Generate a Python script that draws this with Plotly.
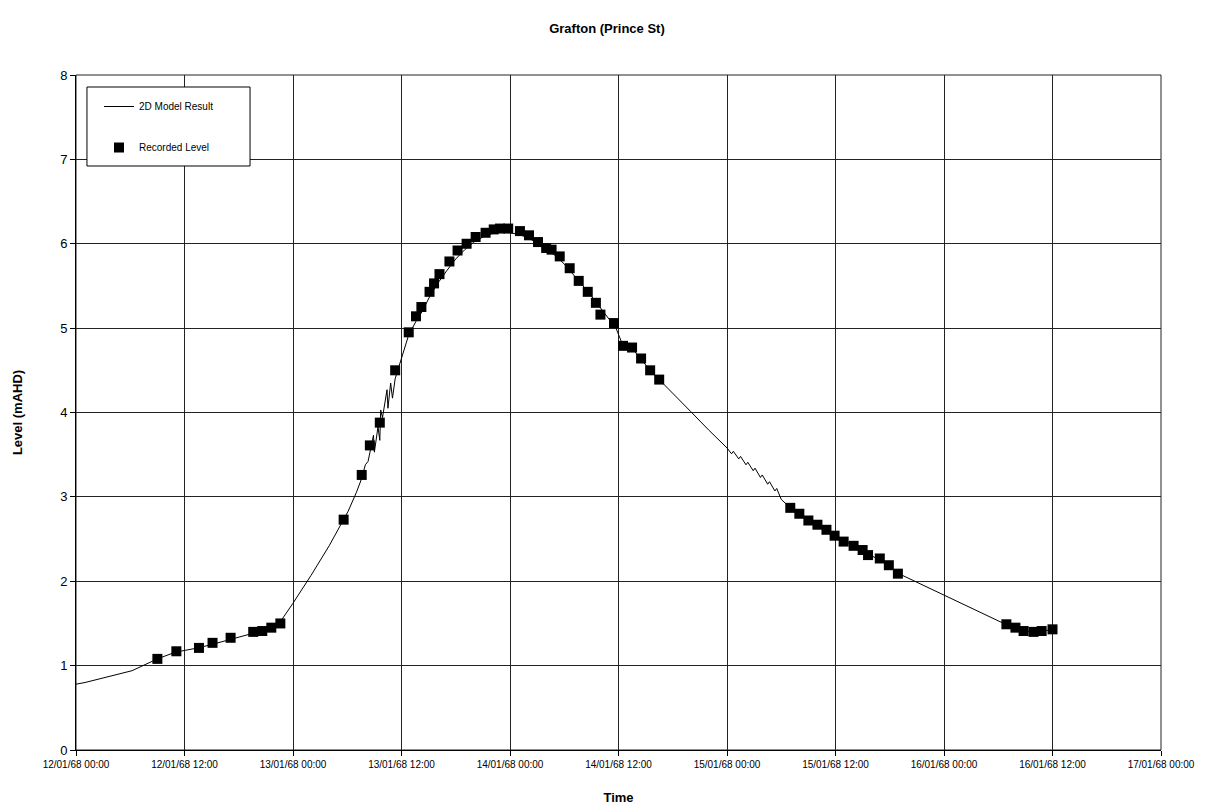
import pandas as pd
import plotly.graph_objects as go

# Start of the time axis; all times below are hours after this instant
t0 = pd.Timestamp("1968-01-12 00:00")

# Recorded gauge levels (hours after start, level in mAHD)
rec_hours = [9.0, 11.1, 13.6, 15.1, 17.1, 19.6, 20.6, 21.6, 22.6,
             29.6, 31.6, 32.5, 33.6, 35.3, 36.8, 37.6, 38.2, 39.1, 39.6,
             40.2, 41.3, 42.2, 43.2, 44.2, 45.3, 46.2, 46.9, 47.8, 49.1,
             50.1, 51.1, 52.0, 52.6, 53.5, 54.6, 55.6, 56.6, 57.5, 58.0,
             59.5, 60.5, 61.5, 62.5, 63.5, 64.5,
             79.0, 80.0, 81.0, 82.0, 83.0, 83.9, 84.9, 86.0, 87.0, 87.6,
             88.9, 89.9, 90.9,
             102.9, 103.9, 104.8, 105.9, 106.8, 108.0]
rec_level = [1.08, 1.17, 1.21, 1.27, 1.33, 1.40, 1.41, 1.45, 1.50,
             2.73, 3.26, 3.61, 3.88, 4.50, 4.95, 5.14, 5.25, 5.43, 5.53,
             5.64, 5.79, 5.92, 6.00, 6.08, 6.13, 6.17, 6.18, 6.18, 6.15,
             6.10, 6.02, 5.95, 5.93, 5.85, 5.71, 5.56, 5.43, 5.30, 5.16,
             5.06, 4.79, 4.77, 4.64, 4.50, 4.39,
             2.87, 2.80, 2.72, 2.67, 2.61, 2.54, 2.47, 2.42, 2.37, 2.31,
             2.27, 2.19, 2.09,
             1.49, 1.45, 1.41, 1.40, 1.41, 1.43]

# 2D model water level output (hours after start, level in mAHD)
model_hours = [0.0, 1.0, 6.2, 9.0, 11.0, 13.5, 15.0, 17.0, 19.5, 20.5,
               21.5, 22.6, 24.0, 26.0, 28.0, 29.5, 30.1, 31.0, 31.6,
               32.0, 32.3, 32.9, 33.0, 33.4, 33.6, 33.7, 33.9, 34.4, 34.5,
               34.8, 35.0, 35.3, 35.8, 36.8, 37.6, 38.3, 39.1, 40.0, 41.0,
               42.0, 43.0, 44.0, 45.0, 46.0, 47.0, 48.0, 49.0, 50.0, 51.0,
               52.0, 53.0, 54.0, 55.0, 56.0, 57.0, 58.0, 59.0, 59.5, 60.5,
               61.5, 62.5, 63.5, 64.5, 66.0, 68.0, 70.0, 72.0, 72.5, 72.7,
               73.3, 73.5, 74.1, 74.3, 74.9, 75.1, 75.7, 75.9, 76.5, 76.7,
               77.3, 77.5, 78.0, 79.0, 80.0, 81.0, 82.0, 83.0, 84.0, 85.0,
               86.0, 87.0, 88.0, 89.0, 90.0, 91.0, 103.0, 104.0, 105.0,
               106.0, 107.0, 108.0]
model_level = [0.78, 0.80, 0.94, 1.08, 1.16, 1.21, 1.25, 1.31, 1.38, 1.41,
               1.45, 1.52, 1.74, 2.07, 2.42, 2.72, 2.83, 3.05, 3.22,
               3.38, 3.42, 3.73, 3.53, 3.83, 3.67, 4.03, 3.94, 4.27, 4.05,
               4.35, 4.17, 4.40, 4.58, 4.92, 5.08, 5.20, 5.37, 5.53, 5.68,
               5.82, 5.93, 6.02, 6.08, 6.12, 6.14, 6.13, 6.11, 6.07, 6.01,
               5.94, 5.86, 5.76, 5.64, 5.51, 5.38, 5.24, 5.10, 5.06, 4.79,
               4.76, 4.63, 4.50, 4.39, 4.23, 4.01, 3.79, 3.58, 3.51, 3.54,
               3.45, 3.48, 3.38, 3.41, 3.31, 3.34, 3.23, 3.26, 3.15, 3.18,
               3.07, 3.10, 2.97, 2.87, 2.79, 2.72, 2.66, 2.60, 2.54, 2.47,
               2.41, 2.36, 2.30, 2.25, 2.18, 2.09, 1.48, 1.44, 1.41,
               1.40, 1.41, 1.43]

y_ticks = [0, 1, 2, 3, 4, 5, 6, 7, 8]


def to_time(hours):
    return [t0 + pd.Timedelta(hours=h) for h in hours]


FONT = "Arial, Liberation Sans, sans-serif"

fig = go.Figure()
fig.add_trace(go.Scatter(
    x=to_time(model_hours), y=model_level, mode="lines",
    name="2D Model Result", legendgroup="a",
    line=dict(color="black", width=1),
))
fig.add_trace(go.Scatter(
    x=to_time(rec_hours), y=rec_level, mode="markers",
    name="Recorded Level", legendgroup="b",
    marker=dict(symbol="square", size=10, color="black"),
))

fig.update_layout(
    width=1214, height=811,
    margin=dict(l=76, r=53, t=75, b=61),
    paper_bgcolor="white", plot_bgcolor="white",
    font=dict(family=FONT, color="black"),
    title=dict(text="<b>Grafton (Prince St)</b>", x=0.5, xanchor="center",
               y=1 - 28 / 811, yanchor="middle", font=dict(size=13)),
    legend=dict(x=0.0212, y=0.9748, xanchor="left", yanchor="top",
                bgcolor="rgba(0,0,0,0)", borderwidth=0,
                font=dict(size=10), tracegroupgap=22, itemwidth=30),
    showlegend=True,
)
fig.update_xaxes(
    type="date",
    range=[t0, t0 + pd.Timedelta(hours=120)],
    dtick=12 * 3600 * 1000, tick0=t0,
    tickformat="%d/%m/%y %H:%M",
    tickfont=dict(size=10),
    ticks="outside", ticklen=5, tickcolor="black",
    showgrid=True, gridcolor="#222222", gridwidth=1,
    showline=True, linecolor="black", linewidth=1, mirror=False,
    zeroline=False, automargin=False,
    title=dict(text="<b>Time</b>", font=dict(size=13), standoff=23),
)
fig.update_yaxes(
    range=[0, 8], tickvals=y_ticks,
    tickfont=dict(size=13),
    ticks="outside", ticklen=5, tickcolor="black",
    showgrid=True, gridcolor="#222222", gridwidth=1,
    showline=True, linecolor="black", linewidth=1,
    zeroline=False, automargin=False,
    title=dict(text="<b>Level (mAHD)</b>", font=dict(size=13), standoff=34),
)
# Frame on the right and top edges of the plot area
fig.add_shape(type="rect", xref="paper", yref="paper", x0=0, y0=0, x1=1, y1=1,
              line=dict(color="#222222", width=1), layer="below")
# Legend box
fig.add_shape(type="rect", xref="paper", yref="paper",
              x0=0.0101, x1=0.1604, y0=0.8652, y1=0.9822,
              line=dict(color="black", width=1), fillcolor="white",
              layer="above")

fig.write_html("out.html")
